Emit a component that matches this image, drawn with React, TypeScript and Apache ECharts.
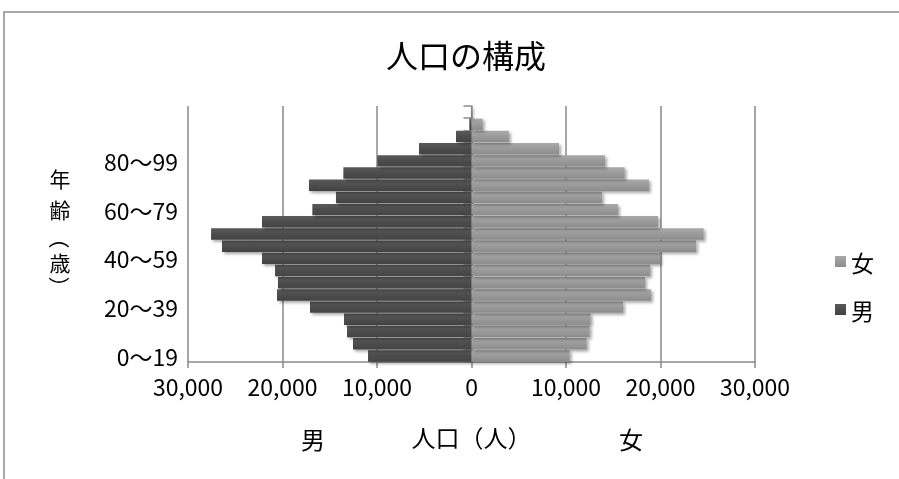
import React, { useEffect, useRef } from "react";
import * as echarts from "echarts";

// age groups, bottom (0〜4) to top (100〜)
const categories = [
  "0〜4", "5〜9", "10〜14", "15〜19", "20〜24", "25〜29", "30〜34", "35〜39",
  "40〜44", "45〜49", "50〜54", "55〜59", "60〜64", "65〜69", "70〜74", "75〜79",
  "80〜84", "85〜89", "90〜94", "95〜99", "100〜",
];
const tickLabels = ["0〜19", "20〜39", "40〜59", "60〜79", "80〜99"];
const male = [
  10950, 12540, 13170, 13490, 17090, 20580, 20480, 20790,
  22170, 26400, 27560, 22170, 16840, 14340, 17200, 13560,
  9970, 5555, 1640, 230, 60,
];
const female = [
  10390, 12190, 12500, 12610, 16030, 18990, 18360, 18890,
  19950, 23760, 24570, 19730, 15500, 13810, 18780, 16210,
  14130, 9260, 3970, 1185, 150,
];
const xTicks = { min: -30000, max: 30000, interval: 10000 };
const yTitleChars = ["年", "齢", "（", "歳", "）"];

const FONT = "'Noto Sans CJK JP', 'Noto Sans', sans-serif";

export default function App() {
  const ref = useRef<HTMLDivElement>(null);
  useEffect(() => {
    if (!ref.current) return;
    const chart = echarts.init(ref.current, undefined, { renderer: "svg" });
    const maleColor = new echarts.graphic.LinearGradient(0, 0, 0, 1, [
      { offset: 0, color: "#595959" },
      { offset: 1, color: "#424242" },
    ]);
    const femaleColor = new echarts.graphic.LinearGradient(0, 0, 0, 1, [
      { offset: 0, color: "#a9a9a9" },
      { offset: 1, color: "#8c8c8c" },
    ]);
    const fmt = (v: number) => Math.abs(v).toLocaleString("en-US");
    const yTitleY = [178, 209, 238, 262, 287];
    chart.setOption({
      animation: false,
      textStyle: { fontFamily: FONT },
      title: {
        text: "人口の構成",
        left: 381,
        top: 33,
        textStyle: { fontFamily: FONT, fontSize: 32, fontWeight: "normal", color: "#000" },
      },
      legend: {
        orient: "vertical",
        left: 830,
        top: 245,
        itemGap: 25,
        itemWidth: 11,
        itemHeight: 11,
        icon: "rect",
        data: ["女", "男"],
        textStyle: { fontFamily: FONT, fontSize: 23, color: "#000" },
      },
      grid: { left: 188, right: 144, top: 106, bottom: 117, containLabel: false },
      xAxis: {
        type: "value",
        min: xTicks.min,
        max: xTicks.max,
        interval: xTicks.interval,
        axisLine: { show: true, lineStyle: { color: "#8a8a8a", width: 1.5 } },
        axisTick: { show: true, length: 6, lineStyle: { color: "#8a8a8a", width: 1.5 } },
        axisLabel: {
          formatter: fmt,
          margin: 12,
          fontSize: 23,
          color: "#000",
          fontFamily: FONT,
        },
        splitLine: { show: true, lineStyle: { color: "#8a8a8a", width: 1.5 } },
        name: "人口（人）",
        nameLocation: "middle",
        nameGap: 62,
        nameTextStyle: { fontSize: 24, color: "#000", fontFamily: FONT },
      },
      yAxis: [
        {
          type: "category",
          data: categories,
          axisLine: { show: true, onZero: true, lineStyle: { color: "#8a8a8a", width: 1.5 } },
          axisTick: { show: true, length: 8, interval: 0, lineStyle: { color: "#8a8a8a", width: 1.5 } },
          axisLabel: { show: false },
          splitLine: { show: false },
        },
        {
          type: "category",
          data: categories,
          position: "left",
          axisLine: { show: false, onZero: false },
          axisTick: { show: false },
          axisLabel: {
            interval: 0,
            margin: 10,
            fontSize: 23,
            color: "#000",
            fontFamily: FONT,
            formatter: (_v: string, i: number) =>
              i % 4 === 0 && i / 4 < tickLabels.length ? tickLabels[i / 4] : "",
          },
          splitLine: { show: false },
        },
      ],
      series: [
        {
          name: "男",
          type: "bar",
          yAxisIndex: 0,
          data: male.map((v) => -v),
          barGap: "-100%",
          barCategoryGap: "6%",
          itemStyle: {
            color: maleColor,
            shadowBlur: 3,
            shadowOffsetX: 2,
            shadowOffsetY: 2,
            shadowColor: "rgba(0,0,0,0.35)",
          },
        },
        {
          name: "女",
          type: "bar",
          yAxisIndex: 0,
          data: female,
          barGap: "-100%",
          barCategoryGap: "6%",
          itemStyle: {
            color: femaleColor,
            shadowBlur: 3,
            shadowOffsetX: 2,
            shadowOffsetY: 2,
            shadowColor: "rgba(0,0,0,0.35)",
          },
        },
      ],
      graphic: [
        {
          type: "rect",
          silent: true,
          shape: { x: 4, y: 12, width: 1000, height: 1000 },
          style: { fill: "none", stroke: "#8c8c8c", lineWidth: 1.5 },
          z: -10,
        },
        {
          type: "text",
          x: 313,
          y: 438,
          style: {
            text: "男",
            fontSize: 24,
            fontFamily: FONT,
            fill: "#000",
            align: "center",
            verticalAlign: "middle",
          },
        },
        {
          type: "text",
          x: 631,
          y: 438,
          style: {
            text: "女",
            fontSize: 24,
            fontFamily: FONT,
            fill: "#000",
            align: "center",
            verticalAlign: "middle",
          },
        },
        ...yTitleChars.map((c, i) => ({
          type: "text",
          x: 60,
          y: yTitleY[i],
          rotation: c === "（" || c === "）" ? -Math.PI / 2 : 0,
          style: {
            text: c,
            fontSize: 21,
            fontFamily: FONT,
            fill: "#000",
            align: "center",
            verticalAlign: "middle",
          },
        })),
      ],
    });
    return () => chart.dispose();
  }, []);
  return (
    <div
      ref={ref}
      style={{ position: "fixed", left: 0, top: 0, width: 899, height: 479 }}
    />
  );
}
